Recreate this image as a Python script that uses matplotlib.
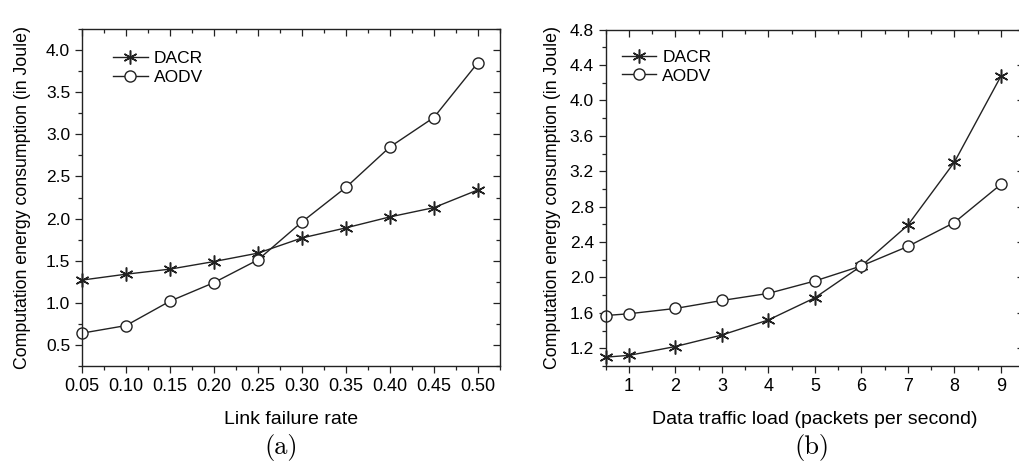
import matplotlib
matplotlib.use('Agg')
from matplotlib import pyplot as plt
from matplotlib.ticker import MultipleLocator, FormatStrFormatter

# (a) link failure rate
rate = [0.05, 0.10, 0.15, 0.20, 0.25, 0.30, 0.35, 0.40, 0.45, 0.50]
dacr_a = [1.27, 1.34, 1.40, 1.49, 1.59, 1.77, 1.89, 2.02, 2.13, 2.34]
aodv_a = [0.64, 0.73, 1.02, 1.24, 1.51, 1.96, 2.37, 2.85, 3.20, 3.85]

# (b) data traffic load
load = [0.5, 1, 2, 3, 4, 5, 6, 7, 8, 9]
dacr_b = [1.10, 1.12, 1.22, 1.35, 1.52, 1.77, 2.13, 2.59, 3.30, 4.27]
aodv_b = [1.57, 1.59, 1.65, 1.74, 1.82, 1.96, 2.13, 2.35, 2.62, 3.05]

plt.rcParams['font.family'] = ['Liberation Sans', 'DejaVu Sans']

star = (6, 2, 0)
lc = '#222222'

fig = plt.figure(figsize=(10.19, 4.66), dpi=100)
ax1 = fig.add_axes([0.0805, 0.2146, 0.410, 0.723])
ax2 = fig.add_axes([0.5944, 0.2146, 0.4105, 0.722])


def style_axes(ax):
    for s in ax.spines.values():
        s.set_linewidth(1.0)
        s.set_color('#222222')
    ax.tick_params(which='both', direction='out', top=False, right=False,
                   color='#222222', width=0.9)
    ax.tick_params(which='major', length=5)
    ax.tick_params(axis='x', which='major', labelsize=13)
    ax.tick_params(axis='y', which='major', labelsize=12.5)
    ax.tick_params(which='minor', length=3)
    # inward ticks on top/right
    sec = ax.secondary_xaxis('top')
    sec.tick_params(which='both', direction='in', labeltop=False, color='#222222', width=0.9)
    sec.tick_params(which='major', length=5)
    sec.tick_params(which='minor', length=3)
    sec.set_xticks(ax.get_xticks())
    sec.xaxis.set_minor_locator(ax.xaxis.get_minor_locator())
    sec.set_xticklabels([])
    secy = ax.secondary_yaxis('right')
    secy.tick_params(which='both', direction='in', labelright=False, color='#222222', width=0.9)
    secy.tick_params(which='major', length=5)
    secy.tick_params(which='minor', length=3)
    secy.set_yticks(ax.get_yticks())
    secy.yaxis.set_minor_locator(ax.yaxis.get_minor_locator())
    secy.set_yticklabels([])
    for s in list(sec.spines.values()) + list(secy.spines.values()):
        s.set_visible(False)


# ---- (a)
ax1.plot(rate, dacr_a, color=lc, lw=1.0, marker=star, ms=10, mew=1.1, label='DACR', clip_on=False)
ax1.plot(rate, aodv_a, color=lc, lw=1.0, marker='o', ms=8, mfc='white', mew=1.0, label='AODV', clip_on=False)
ax1.set_xlim(0.05, 0.525)
ax1.set_ylim(0.25, 4.25)
ax1.set_xticks(rate)
ax1.set_yticks([0.5, 1.0, 1.5, 2.0, 2.5, 3.0, 3.5, 4.0])
ax1.xaxis.set_minor_locator(MultipleLocator(0.025))
ax1.yaxis.set_minor_locator(MultipleLocator(0.25))
ax1.xaxis.set_major_formatter(FormatStrFormatter('%.2f'))
ax1.yaxis.set_major_formatter(FormatStrFormatter('%.1f'))
style_axes(ax1)
ax1.set_ylabel('Computation energy consumption (in Joule)', fontsize=12.8, labelpad=11)
ax1.set_xlabel('Link failure rate', fontsize=14, labelpad=12)
ax1.legend(loc='upper left', bbox_to_anchor=(0.074, 0.935), frameon=False, fontsize=12.5,
           borderpad=0, borderaxespad=0, handlelength=2.0, handletextpad=0.35, labelspacing=0.2)

# ---- (b)
ax2.plot(load, dacr_b, color=lc, lw=1.0, marker=star, ms=10, mew=1.1, label='DACR', clip_on=False)
ax2.plot(load, aodv_b, color=lc, lw=1.0, marker='o', ms=8, mfc='white', mew=1.0, label='AODV', clip_on=False)
ax2.set_xlim(0.5, 9.5)
ax2.set_ylim(1.0, 4.8)
ax2.set_xticks([1, 2, 3, 4, 5, 6, 7, 8, 9])
ax2.set_yticks([1.2, 1.6, 2.0, 2.4, 2.8, 3.2, 3.6, 4.0, 4.4, 4.8])
ax2.xaxis.set_minor_locator(MultipleLocator(0.5))
ax2.yaxis.set_minor_locator(MultipleLocator(0.2))
ax2.yaxis.set_major_formatter(FormatStrFormatter('%.1f'))
style_axes(ax2)
ax2.set_ylabel('Computation energy consumption (in Joule)', fontsize=12.8, labelpad=6)
ax2.set_xlabel('Data traffic load (packets per second)', fontsize=14, labelpad=12)
ax2.legend(loc='upper left', bbox_to_anchor=(0.038, 0.94), frameon=False, fontsize=12.5,
           borderpad=0, borderaxespad=0, handlelength=2.0, handletextpad=0.35, labelspacing=0.2)

fig.text(0.276, 0.04, '(a)', fontsize=19, fontfamily='cmr10', ha='center', va='center')
fig.text(0.797, 0.04, '(b)', fontsize=19, fontfamily='cmr10', ha='center', va='center')

fig.savefig('out.png', dpi=100)
